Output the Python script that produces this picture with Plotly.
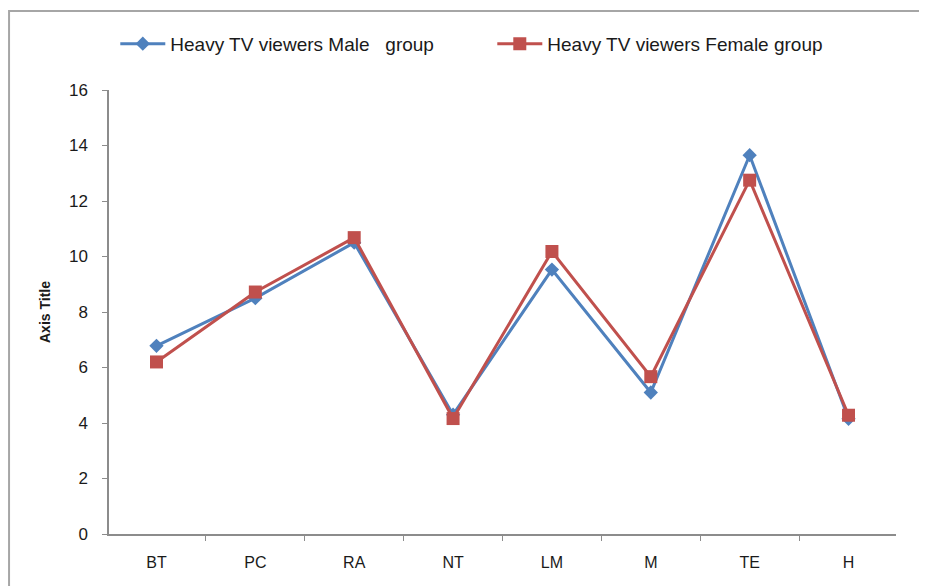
"""Line chart: heavy TV viewers, male vs female group scores."""

import plotly.graph_objects as go

categories = ["BT", "PC", "RA", "NT", "LM", "M", "TE", "H"]
male_values = [6.78, 8.5, 10.5, 4.3, 9.53, 5.1, 13.65, 4.15]
female_values = [6.2, 8.72, 10.68, 4.16, 10.18, 5.67, 12.75, 4.28]
y_ticks = [0, 2, 4, 6, 8, 10, 12, 14, 16]

FONT = "Liberation Sans, Arial, sans-serif"
AXIS_GREY = "#8c8c8c"

fig = go.Figure()
fig.add_trace(go.Scatter(
    x=categories,
    y=male_values,
    mode="lines+markers",
    name="Heavy TV viewers Male   group",
    line=dict(color="#4F81BD", width=3),
    marker=dict(symbol="diamond", size=11, color="#4F81BD"),
))
fig.add_trace(go.Scatter(
    x=categories,
    y=female_values,
    mode="lines+markers",
    name="Heavy TV viewers Female group",
    line=dict(color="#C0504D", width=3),
    marker=dict(symbol="square", size=13, color="#C0504D"),
))

# page body adds an 8px offset, so the figure is 8px smaller than the window
fig.update_layout(
    width=919,
    height=578,
    paper_bgcolor="white",
    plot_bgcolor="white",
    font=dict(family=FONT, size=16, color="#1a1a1a"),
    margin=dict(l=101, r=31, t=82, b=52),
    showlegend=True,
    legend=dict(
        orientation="h",
        x=0.008,
        xanchor="left",
        y=1.104,
        yanchor="middle",
        font=dict(family=FONT, size=19, color="#1a1a1a"),
        entrywidth=317,
        entrywidthmode="pixels",
        itemwidth=45,
        bgcolor="rgba(0,0,0,0)",
    ),
    xaxis=dict(
        type="category",
        showgrid=False,
        showline=True,
        linecolor=AXIS_GREY,
        linewidth=1.5,
        ticks="outside",
        tickson="boundaries",
        ticklen=5,
        tickcolor=AXIS_GREY,
        tickfont=dict(family=FONT, size=16),
        ticklabelstandoff=13,
        zeroline=False,
    ),
    yaxis=dict(
        range=[0, 16],
        tickvals=y_ticks,
        showgrid=False,
        showline=True,
        linecolor=AXIS_GREY,
        linewidth=1.5,
        ticks="outside",
        ticklen=5,
        tickcolor=AXIS_GREY,
        tickfont=dict(family=FONT, size=17),
        ticklabelstandoff=11,
        zeroline=False,
        title=dict(
            text="<b>Axis Title</b>",
            font=dict(family=FONT, size=14),
            standoff=15,
        ),
    ),
    shapes=[
        dict(
            type="rect", xref="paper", yref="paper",
            x0=-0.127, x1=1.2, y0=-0.3, y1=1.178,
            line=dict(color="#a6a6a6", width=2),
            fillcolor="rgba(0,0,0,0)",
            layer="below",
        )
    ],
    annotations=[
        dict(
            text="<b>Fig. 11</b>",
            xref="paper", yref="paper",
            x=0.46, y=1.19,
            xanchor="center", yanchor="bottom",
            showarrow=False,
            font=dict(family=FONT, size=16, color="#1a1a1a"),
        )
    ],
)

fig.write_html("out.html")
